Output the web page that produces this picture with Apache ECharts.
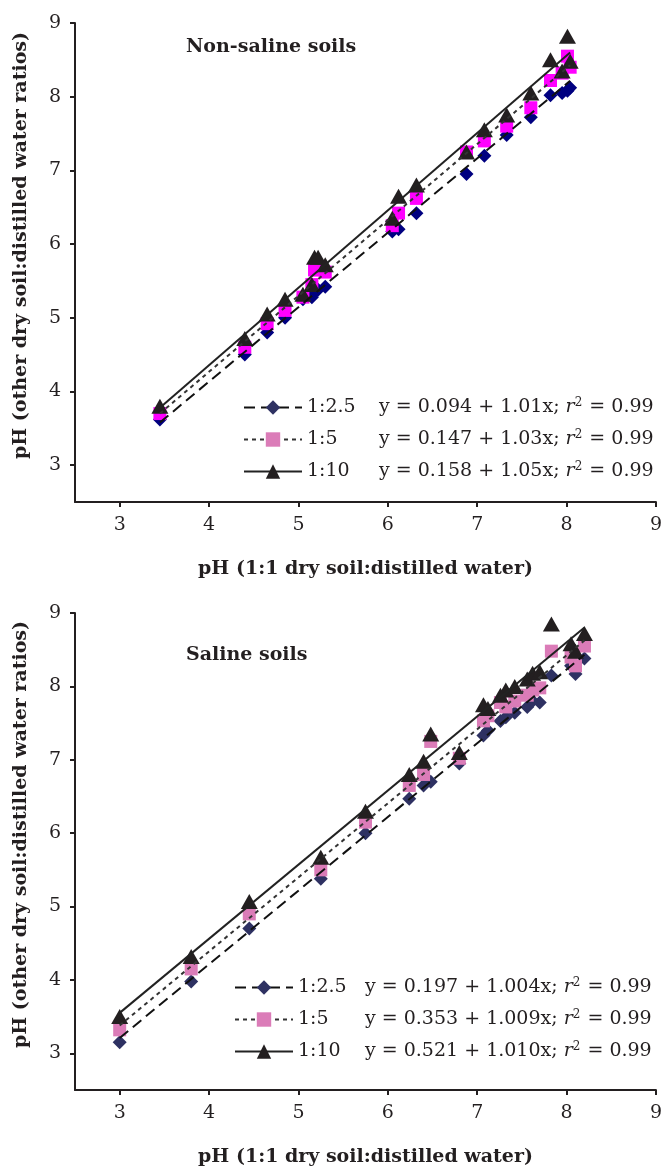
<!DOCTYPE html>
<html>
<head>
<meta charset="utf-8">
<script src="https://cdn.jsdelivr.net/npm/echarts@6/dist/echarts.min.js"></script>
<style>
  html, body { margin: 0; padding: 0; background: #fff; }
  #chart { width: 665px; height: 1174px; }
</style>
</head>
<body>
<div id="chart"></div>
<script>
// pH at 1:1 (x) and at other ratios (y), one entry per soil sample
const xNonSaline = [3.45, 4.40, 4.65, 4.85, 5.05, 5.15, 5.18, 5.22, 5.30, 6.05, 6.12, 6.32, 6.88, 7.08, 7.33, 7.60, 7.82, 7.95, 8.01, 8.04];
const nonSaline25 = [3.62, 4.50, 4.80, 5.00, 5.25, 5.28, 5.35, 5.38, 5.42, 6.17, 6.20, 6.42, 6.95, 7.20, 7.48, 7.72, 8.02, 8.05, 8.08, 8.12];
const nonSaline5 = [3.70, 4.60, 4.92, 5.10, 5.28, 5.45, 5.65, 5.65, 5.62, 6.25, 6.42, 6.62, 7.25, 7.40, 7.60, 7.85, 8.22, 8.32, 8.55, 8.40];
const nonSaline10 = [3.80, 4.72, 5.05, 5.25, 5.32, 5.45, 5.82, 5.82, 5.72, 6.35, 6.65, 6.80, 7.25, 7.55, 7.75, 8.05, 8.50, 8.35, 8.82, 8.48];

const xSaline = [3.00, 3.80, 4.45, 5.25, 5.75, 6.24, 6.40, 6.48, 6.80, 7.07, 7.12, 7.26, 7.32, 7.42, 7.56, 7.62, 7.70, 7.83, 8.05, 8.10, 8.20];
const saline25 = [3.15, 3.98, 4.70, 5.38, 6.00, 6.47, 6.65, 6.70, 6.95, 7.33, 7.40, 7.53, 7.58, 7.64, 7.72, 7.80, 7.78, 8.15, 8.28, 8.17, 8.38];
const saline5 = [3.32, 4.15, 4.90, 5.50, 6.15, 6.65, 6.80, 7.25, 7.02, 7.53, 7.60, 7.78, 7.72, 7.80, 7.88, 7.95, 7.98, 8.48, 8.40, 8.28, 8.55];
const saline10 = [3.50, 4.32, 5.07, 5.67, 6.30, 6.80, 6.98, 7.35, 7.10, 7.75, 7.70, 7.88, 7.95, 8.00, 8.10, 8.18, 8.20, 8.85, 8.58, 8.48, 8.72];

// regression equations printed in the legends: [intercept, slope]
const ratios = ['1:2.5', '1:5', '1:10'];
const fitNonSaline = [[0.094, 1.01], [0.147, 1.03], [0.158, 1.05]];
const fitSaline = [[0.197, 1.004], [0.353, 1.009], [0.521, 1.010]];
const eqNonSaline = ['0.094 + 1.01x', '0.147 + 1.03x', '0.158 + 1.05x'];
const eqSaline = ['0.197 + 1.004x', '0.353 + 1.009x', '0.521 + 1.010x'];
const r2 = '0.99';

const tickValues = [3, 4, 5, 6, 7, 8, 9];

const FONT = 'DejaVu Serif';
const INK = '#231F20';

const pairs = (xs, ys) => xs.map((x, i) => [x, ys[i]]);
const fitLine = (xs, f) => {
    const lo = Math.min(...xs), hi = Math.max(...xs);
    return [[lo, f[0] + f[1] * lo], [hi, f[0] + f[1] * hi]];
};

const legendText = {};

const buildPanel = (idx, prefix, xs, ys, fits, eqs, colors) => {
    const markers = ['diamond', 'rect', 'triangle'];
    const sizes = [[14, 14], [13, 13], [17, 15]];
    const dashes = [[11, 6], [4, 4], 'solid'];
    const lineColors = ['#111', '#333', '#222'];
    const legendColors = ['#2E3162', '#DB7CB8', INK];
    const out = [];
    ys.forEach((y, k) => {
        out.push({
            name: prefix + ' pts ' + ratios[k],
            type: 'scatter',
            xAxisIndex: idx, yAxisIndex: idx,
            symbol: markers[k],
            symbolSize: sizes[k],
            itemStyle: { color: colors[k], opacity: 1 },
            z: 2 + k,
            data: pairs(xs, y)
        });
    });
    fits.forEach((f, k) => {
        const name = prefix + ' ' + ratios[k];
        legendText[name] = '{a|' + ratios[k] + '}{b|y = ' + eqs[k] + '; }{i|r}{s|2}{b| = ' + r2 + '}';
        out.push({
            name: name,
            type: 'line',
            xAxisIndex: idx, yAxisIndex: idx,
            symbol: markers[k],
            showSymbol: false,
            itemStyle: { color: legendColors[k] },
            lineStyle: { color: lineColors[k], width: 2, type: dashes[k] },
            z: 6,
            silent: true,
            data: fitLine(xs, f)
        });
    });
    return out;
};

const makeXAxis = (grid) => ({
    type: 'value', gridIndex: grid, min: 2.5, max: 9,
    name: 'pH (1:1 dry soil:distilled water)',
    nameLocation: 'middle', nameGap: 58,
    nameTextStyle: { fontFamily: FONT, fontWeight: 'bold', fontSize: 19, color: INK },
    axisLine: { onZero: false, lineStyle: { color: INK, width: 2 } },
    axisTick: { show: true, length: 5, customValues: tickValues, lineStyle: { color: INK, width: 2 } },
    axisLabel: { customValues: tickValues, margin: 14, fontFamily: FONT, fontSize: 19, color: INK },
    splitLine: { show: false }
});

const makeYAxis = (grid) => ({
    type: 'value', gridIndex: grid, min: 2.5, max: 9,
    name: 'pH (other dry soil:distilled water ratios)',
    nameLocation: 'middle', nameGap: 44,
    nameTextStyle: { fontFamily: FONT, fontWeight: 'bold', fontSize: 19, color: INK, padding: [0, 0, 0, 34] },
    axisLine: { onZero: false, lineStyle: { color: INK, width: 2 } },
    axisTick: { show: true, length: 5, customValues: tickValues, lineStyle: { color: INK, width: 2 } },
    axisLabel: { customValues: tickValues, margin: 14, fontFamily: FONT, fontSize: 19, color: INK },
    splitLine: { show: false }
});

const richEq = {
    a: { fontFamily: FONT, fontSize: 19, color: INK, width: 72 },
    b: { fontFamily: FONT, fontSize: 19, color: INK },
    i: { fontFamily: FONT, fontSize: 19, color: INK, fontStyle: 'italic' },
    s: { fontFamily: FONT, fontSize: 12, color: INK, padding: [0, 1, 9, 0] }
};

const makeLegend = (prefix, left, top, colW) => ({
    orient: 'vertical',
    left: left, top: top,
    itemWidth: 58, itemHeight: 18, itemGap: 12,
    selectedMode: false,
    data: ratios.map(r => prefix + ' ' + r),
    formatter: name => legendText[name],
    textStyle: { rich: Object.assign({}, richEq, { a: Object.assign({}, richEq.a, { width: colW }) }) }
});

const getOption = () => {
    const series = [].concat(
        buildPanel(0, 'Non-saline', xNonSaline, [nonSaline25, nonSaline5, nonSaline10], fitNonSaline, eqNonSaline, ['#000080', '#FF00FF', INK]),
        buildPanel(1, 'Saline', xSaline, [saline25, saline5, saline10], fitSaline, eqSaline, ['#2E3162', '#DB7CB8', INK])
    );
    return {
        animation: false,
        backgroundColor: '#fff',
        title: [
            { text: 'Non-saline soils', left: 181, top: 33, textStyle: { fontFamily: FONT, fontWeight: 'bold', fontSize: 19, color: INK } },
            { text: 'Saline soils', left: 181, top: 641, textStyle: { fontFamily: FONT, fontWeight: 'bold', fontSize: 19, color: INK } }
        ],
        grid: [
            { left: 75, top: 23, right: 9, height: 479 },
            { left: 75, top: 613, right: 9, height: 477 }
        ],
        xAxis: [makeXAxis(0), makeXAxis(1)],
        yAxis: [makeYAxis(0), makeYAxis(1)],
        legend: [
            makeLegend('Non-saline', 238, 392, 72),
            makeLegend('Saline', 229, 972, 67)
        ],
        series: series
    };
};

window.addEventListener('load', () => {
    const chart = echarts.init(document.getElementById('chart'));
    chart.setOption(getOption());
});
</script>
</body>
</html>
